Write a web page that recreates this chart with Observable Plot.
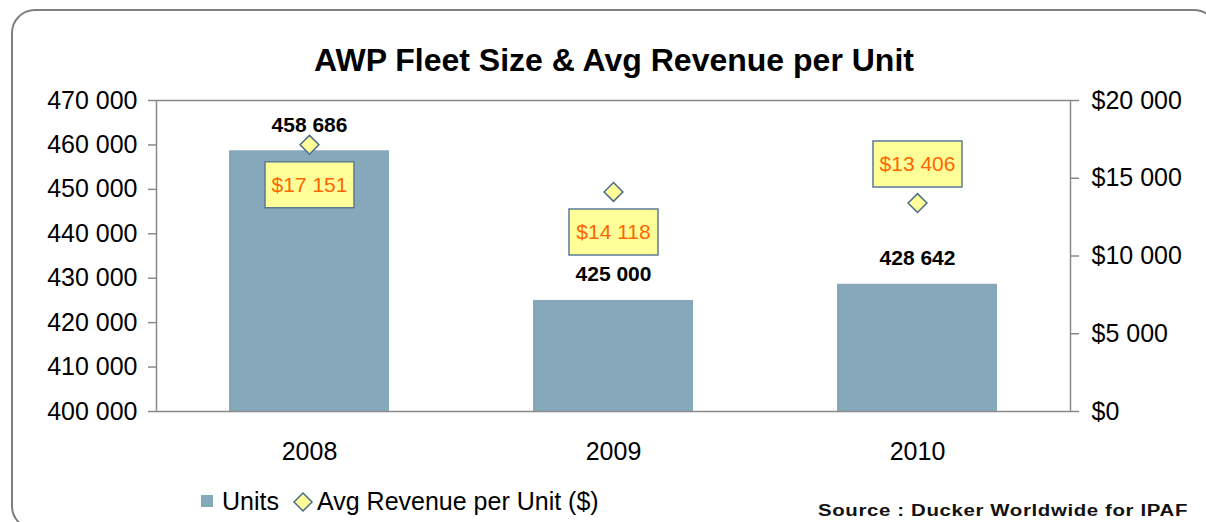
<!DOCTYPE html>
<html>
<head>
<meta charset="utf-8">
<script src="https://cdn.jsdelivr.net/npm/d3@7"></script>
<script src="https://cdn.jsdelivr.net/npm/@observablehq/plot@0.6"></script>
<style>
html, body { margin: 0; padding: 0; background: #fff; overflow: hidden; }
#wrap { position: relative; width: 1206px; height: 522px; overflow: hidden; font-family: "Liberation Sans", Arial, sans-serif; color: #000; }
#frame { position: absolute; left: 11px; top: 9px; width: 1207px; height: 521px; border: 2px solid #7f7f7f; border-radius: 24px; box-sizing: border-box; pointer-events: none; }
#title { position: absolute; left: 0; width: 1228px; top: 44px; text-align: center; font-size: 32px; line-height: 32px; font-weight: bold; white-space: nowrap; }
#chart { position: absolute; left: 0; top: 0; }
.lg { position: absolute; font-size: 25px; line-height: 25px; white-space: nowrap; }
#sw { position: absolute; left: 201px; top: 495px; width: 12px; height: 12px; background: #87A7BB; }
#dm { position: absolute; left: 292px; top: 491px; }
#source { position: absolute; left: 818px; top: 503px; font-size: 16px; line-height: 16px; font-weight: bold; letter-spacing: 0.5px; white-space: nowrap; color: #111; transform-origin: 0 0; }
</style>
</head>
<body>
<div id="wrap">
  <div id="chart"></div>
  <div id="title">AWP Fleet Size &amp; Avg Revenue per Unit</div>
  <div id="sw"></div>
  <div class="lg" style="left:222px; top:489px;">Units</div>
  <svg id="dm" width="22" height="22"><path d="M11,2 L20,11 L11,20 L2,11 Z" fill="#FFFF99" stroke="#4A6C86" stroke-width="1.5"/></svg>
  <div class="lg" style="left:317px; top:489px;">Avg Revenue per Unit ($)</div>
  <div id="source">Source : Ducker Worldwide for IPAF</div>
  <div id="frame"></div>
</div>
<script>
// ---- data ----
const years = ["2008", "2009", "2010"];
const units = [458686, 425000, 428642];
const revenue = [17151, 14118, 13406];
const leftTicks = [400000, 410000, 420000, 430000, 440000, 450000, 460000, 470000];
const rightTicks = [0, 5000, 10000, 15000, 20000];

// ---- scales mapping (dual axis) ----
const U0 = 400000, U1 = 470000, R1 = 20000;
const toU = r => U0 + (r / R1) * (U1 - U0);
const fromU = u => Math.round(((u - U0) / (U1 - U0)) * R1);

const loc = d3.formatLocale({decimal: ".", thousands: " ", grouping: [3], currency: ["$", ""]});
const fmtN = loc.format(",d");
const fmtD = v => "$" + fmtN(v);

const data = years.map((y, i) => ({year: y, units: units[i], rev: revenue[i], revU: toU(revenue[i])}));

const boxSymbol = {
  draw(ctx) {
    ctx.moveTo(-44.5, -23); ctx.lineTo(44.5, -23); ctx.lineTo(44.5, 23); ctx.lineTo(-44.5, 23); ctx.closePath();
  }
};

const below = d => d.year !== "2010";
const above = d => d.year === "2010";

const chart = Plot.plot({
  width: 1206,
  height: 522,
  marginLeft: 156,
  marginRight: 136,
  marginTop: 100,
  marginBottom: 111,
  style: {fontFamily: "Liberation Sans, Arial, sans-serif", fontSize: "25px", background: "transparent", color: "#000"},
  x: {domain: years, paddingInner: 0.475, paddingOuter: 0.2375, axis: null},
  y: {domain: [U0, U1], axis: null},
  marks: [
    Plot.barY(data, {x: "year", y1: U0, y2: "units", fill: "#87A7BB"}),
    Plot.frame({stroke: "#8a8a8a", strokeWidth: 1.5}),
    Plot.axisY(leftTicks, {anchor: "left", tickSize: 8, tickPadding: 11, tickFormat: fmtN, fontSize: 25, stroke: "#8a8a8a", strokeWidth: 1.5, fill: "#000", label: null}),
    Plot.axisY(rightTicks.map(toU), {anchor: "right", tickSize: 8, tickPadding: 13, tickFormat: d => fmtD(fromU(d)), fontSize: 25, stroke: "#8a8a8a", strokeWidth: 1.5, fill: "#000", label: null}),
    Plot.axisX({tickSize: 0, tickPadding: 31, fontSize: 25, fill: "#000", label: null}),
    Plot.text(data, {x: "year", y: "units", text: d => fmtN(d.units), dy: -26, fontWeight: "bold", fontSize: 21, fill: "#000"}),
    Plot.dot(data, {filter: below, x: "year", y: "revU", dy: 40, symbol: boxSymbol, r: 5, fill: "#FFFF99", stroke: "#5B7C93", strokeWidth: 1.5}),
    Plot.dot(data, {filter: above, x: "year", y: "revU", dy: -39, symbol: boxSymbol, r: 5, fill: "#FFFF99", stroke: "#5B7C93", strokeWidth: 1.5}),
    Plot.text(data, {filter: below, x: "year", y: "revU", dy: 40, text: d => fmtD(d.rev), fontSize: 21, fill: "#FF6600"}),
    Plot.text(data, {filter: above, x: "year", y: "revU", dy: -39, text: d => fmtD(d.rev), fontSize: 21, fill: "#FF6600"}),
    Plot.dot(data, {x: "year", y: "revU", symbol: "diamond2", r: 8.5, fill: "#FFFF99", stroke: "#4A6C86", strokeWidth: 1.5})
  ]
});
document.getElementById("chart").appendChild(chart);

// stretch source line horizontally to its width in the reference
const src = document.getElementById("source");
const w = src.getBoundingClientRect().width;
src.style.transform = `scaleX(${370 / w})`;
</script>
</body>
</html>
